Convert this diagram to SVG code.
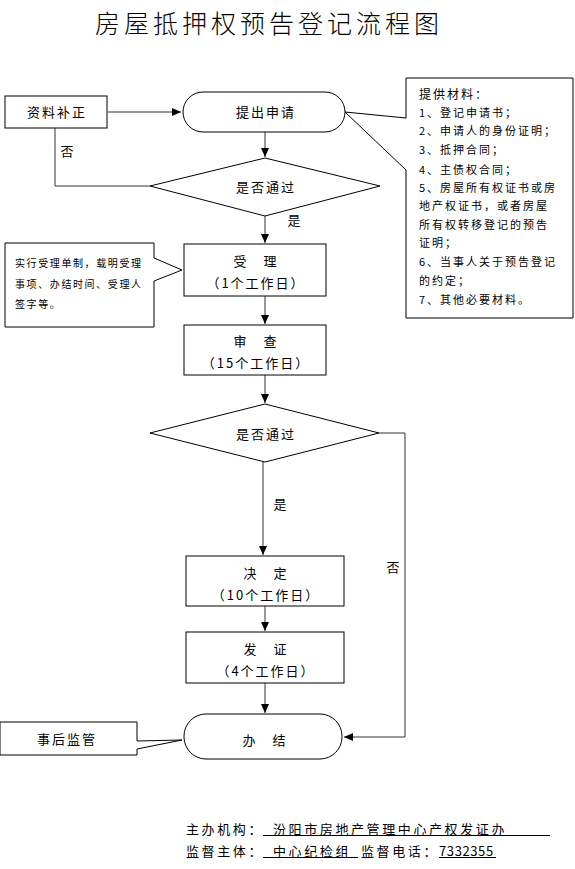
<svg xmlns="http://www.w3.org/2000/svg" width="575" height="869" viewBox="0 0 575 869">
<style>
text{font-family:"Noto Sans CJK SC","Liberation Sans",sans-serif;fill:#000}
.box{fill:#fff;stroke:#000;stroke-width:1}
.t{font-size:13px;letter-spacing:2px;text-anchor:middle}
.s{font-size:11px;letter-spacing:2px}
.c{font-size:10px;letter-spacing:1.6px}
.f{font-size:13px;letter-spacing:2.6px}
.con{fill:none;stroke:#333;stroke-width:1}
.ul{stroke:#000;stroke-width:1}
</style>
<defs>
<marker id="arr" markerWidth="10" markerHeight="10" refX="9" refY="5" orient="auto" markerUnits="userSpaceOnUse">
<path d="M0,1 L9,5 L0,9 z" fill="#000"/>
</marker>
</defs>
<text x="95" y="33" font-size="25" font-weight="300" style="letter-spacing:4px">房屋抵押权预告登记流程图</text>
<g id="connectors">
<line class="con" x1="108" y1="112" x2="181" y2="112" marker-end="url(#arr)"/>
<line class="con" x1="265" y1="132" x2="265" y2="157" marker-end="url(#arr)"/>
<polyline class="con" points="55,128 55,186 150,186"/>
<line class="con" x1="265" y1="216" x2="265" y2="243" marker-end="url(#arr)"/>
<line class="con" x1="265" y1="296" x2="265" y2="324" marker-end="url(#arr)"/>
<line class="con" x1="265" y1="375" x2="265" y2="403" marker-end="url(#arr)"/>
<line class="con" x1="263" y1="462" x2="263" y2="555" marker-end="url(#arr)"/>
<line class="con" x1="265" y1="606" x2="265" y2="631" marker-end="url(#arr)"/>
<line class="con" x1="265" y1="683" x2="265" y2="713" marker-end="url(#arr)"/>
<polyline class="con" points="379,433 405,433 405,737 344,737" marker-end="url(#arr)"/>
<text x="68" y="156" class="t">否</text>
<text x="295" y="225" class="t">是</text>
<text x="281" y="509" class="t">是</text>
<text x="394" y="572" class="t">否</text>
</g>
<g id="n-buzheng">
<rect class="box" x="5" y="96" width="102" height="32"/>
<text x="57" y="117" class="t">资料补正</text>
</g>
<g id="n-shenqing">
<rect class="box" x="183" y="92" width="162" height="40" rx="20" ry="20"/>
<text x="266" y="117" class="t">提出申请</text>
</g>
<g id="n-cailiao">
<path class="box" d="M406,78 H573 V318 H406 V170 L345,112 L406,118 Z"/>
<g class="s">
<text x="419" y="99" style="font-size:12px">提供材料：</text>
<text x="419" y="117">1、登记申请书；</text>
<text x="419" y="135">2、申请人的身份证明；</text>
<text x="419" y="154">3、抵押合同；</text>
<text x="419" y="174">4、主债权合同；</text>
<text x="419" y="192">5、房屋所有权证书或房</text>
<text x="419" y="210">地产权证书，或者房屋</text>
<text x="419" y="229">所有权转移登记的预告</text>
<text x="419" y="247">证明；</text>
<text x="419" y="266">6、当事人关于预告登记</text>
<text x="419" y="285">的约定；</text>
<text x="419" y="304">7、其他必要材料。</text>
</g>
</g>
<g id="n-d1">
<polygon class="box" points="150,186 265,158 380,186 265,216"/>
<text x="266" y="192" class="t">是否通过</text>
</g>
<g id="n-slcallout">
<path class="box" d="M5,243 H154 V258 L182,270 L154,281 V327 H5 Z"/>
<g class="c">
<text x="15" y="267">实行受理单制，载明受理</text>
<text x="15" y="288">事项、办结时间、受理人</text>
<text x="15" y="308">签字等。</text>
</g>
</g>
<g id="n-shouli">
<rect class="box" x="184" y="244" width="142" height="52"/>
<text x="256" y="266" class="t">受　理</text>
<text x="256" y="288" class="t">（1个工作日）</text>
</g>
<g id="n-shencha">
<rect class="box" x="184" y="325" width="142" height="50"/>
<text x="256" y="346" class="t">审　查</text>
<text x="256" y="368" class="t">（15个工作日）</text>
</g>
<g id="n-d2">
<polygon class="box" points="150,433 265,404 379,433 265,462"/>
<text x="266" y="439" class="t">是否通过</text>
</g>
<g id="n-jueding">
<rect class="box" x="186" y="556" width="158" height="50"/>
<text x="266" y="578" class="t">决　定</text>
<text x="266" y="600" class="t">（10个工作日）</text>
</g>
<g id="n-fazheng">
<rect class="box" x="186" y="632" width="158" height="51"/>
<text x="266" y="654" class="t">发　证</text>
<text x="266" y="676" class="t">（4个工作日）</text>
</g>
<g id="n-banjie">
<rect class="box" x="184" y="714" width="158" height="45" rx="22" ry="22"/>
<text x="265" y="745" class="t">办　结</text>
</g>
<g id="n-jianguan">
<path class="box" d="M0,722 H137 V741 L182,740 L137,749 V755 H0 Z"/>
<text x="67" y="744" class="t">事后监管</text>
</g>
<g id="footer">
<text x="186" y="834" class="f">主办机构：</text>
<text x="273" y="834" class="f">汾阳市房地产管理中心产权发证办</text>
<line class="ul" x1="263" y1="835.5" x2="550" y2="835.5"/>
<text x="186" y="856" class="f">监督主体：</text>
<text x="273" y="856" class="f">中心纪检组</text>
<line class="ul" x1="263" y1="857.5" x2="358" y2="857.5"/>
<text x="361" y="856" class="f">监督电话：</text>
<text x="439" y="856" style="font-size:13px;letter-spacing:0.6px">7332355</text>
<line class="ul" x1="439" y1="857.5" x2="496" y2="857.5"/>
</g>
</svg>
